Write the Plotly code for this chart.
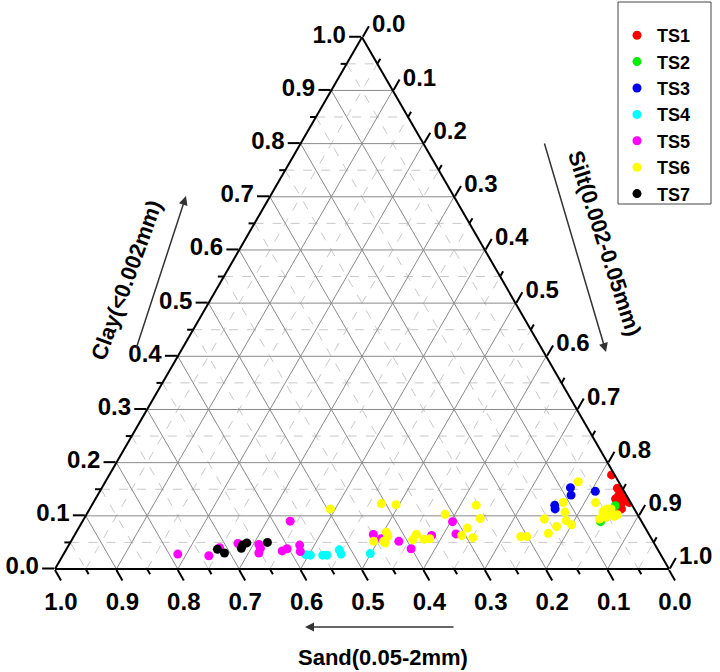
import math
import plotly.graph_objects as go

# ---- data: soil texture fractions ----
series_names = ["TS1", "TS2", "TS3", "TS4", "TS5", "TS6", "TS7"]
series_colors = ["#ff0000", "#00ee00", "#0000ee", "#00ffff", "#ff00ff", "#ffff00", "#000000"]

ts1_clay = [0.177, 0.152, 0.148, 0.139, 0.142, 0.136, 0.132, 0.132, 0.126, 0.125, 0.113, 0.113]
ts1_silt = [0.818, 0.840, 0.850, 0.849, 0.853, 0.862, 0.847, 0.855, 0.861, 0.873, 0.862, 0.866]
ts1_sand = [0.005, 0.008, 0.002, 0.012, 0.005, 0.002, 0.021, 0.013, 0.013, 0.002, 0.025, 0.021]

ts2_clay = [0.119, 0.089]
ts2_silt = [0.853, 0.844]
ts2_sand = [0.028, 0.067]

ts3_clay = [0.120, 0.113, 0.153, 0.139, 0.146]
ts3_silt = [0.754, 0.758, 0.763, 0.771, 0.807]
ts3_sand = [0.126, 0.129, 0.084, 0.090, 0.047]

ts4_clay = [0.027, 0.026, 0.026, 0.026, 0.036, 0.028, 0.029]
ts4_silt = [0.395, 0.403, 0.423, 0.430, 0.445, 0.452, 0.499]
ts4_sand = [0.578, 0.571, 0.551, 0.544, 0.519, 0.520, 0.472]

ts5_clay = [0.028, 0.025, 0.040, 0.048, 0.046, 0.039, 0.030, 0.090, 0.034, 0.038,
            0.045, 0.033, 0.065, 0.057, 0.052, 0.038, 0.063, 0.089, 0.066]
ts5_silt = [0.186, 0.238, 0.248, 0.274, 0.309, 0.315, 0.317, 0.338, 0.353, 0.359,
            0.376, 0.383, 0.486, 0.503, 0.534, 0.561, 0.582, 0.603, 0.620]
ts5_sand = [0.786, 0.737, 0.712, 0.678, 0.645, 0.646, 0.653, 0.572, 0.613, 0.603,
            0.579, 0.584, 0.449, 0.440, 0.414, 0.401, 0.355, 0.308, 0.314]

ts6_clay = [0.113, 0.123, 0.121, 0.052, 0.069, 0.062, 0.052, 0.049, 0.055, 0.065,
            0.056, 0.057, 0.103, 0.120, 0.095, 0.063, 0.077, 0.059, 0.061, 0.061,
            0.067, 0.080, 0.094, 0.083, 0.091, 0.125, 0.107, 0.164, 0.125, 0.094,
            0.107, 0.110, 0.113, 0.113, 0.102, 0.104, 0.102, 0.097, 0.099]
ts6_silt = [0.392, 0.470, 0.495, 0.493, 0.505, 0.511, 0.509, 0.513, 0.555, 0.556,
            0.573, 0.582, 0.584, 0.626, 0.645, 0.631, 0.633, 0.651, 0.728, 0.738,
            0.770, 0.777, 0.750, 0.800, 0.787, 0.765, 0.777, 0.770, 0.818, 0.840,
            0.839, 0.840, 0.843, 0.849, 0.849, 0.856, 0.865, 0.849, 0.861]
ts6_sand = [0.495, 0.407, 0.384, 0.455, 0.426, 0.427, 0.439, 0.438, 0.390, 0.379,
            0.371, 0.361, 0.313, 0.254, 0.260, 0.306, 0.290, 0.290, 0.211, 0.201,
            0.163, 0.143, 0.156, 0.117, 0.122, 0.110, 0.116, 0.066, 0.057, 0.066,
            0.054, 0.050, 0.044, 0.038, 0.049, 0.040, 0.033, 0.054, 0.040]

ts7_clay = [0.037, 0.030, 0.039, 0.045, 0.049, 0.050]
ts7_silt = [0.246, 0.261, 0.284, 0.283, 0.288, 0.321]
ts7_sand = [0.717, 0.709, 0.677, 0.672, 0.663, 0.629]

series_clay = [ts1_clay, ts2_clay, ts3_clay, ts4_clay, ts5_clay, ts6_clay, ts7_clay]
series_silt = [ts1_silt, ts2_silt, ts3_silt, ts4_silt, ts5_silt, ts6_silt, ts7_silt]
series_sand = [ts1_sand, ts2_sand, ts3_sand, ts4_sand, ts5_sand, ts6_sand, ts7_sand]

major_ticks = [0.0, 0.1, 0.2, 0.3, 0.4, 0.5, 0.6, 0.7, 0.8, 0.9, 1.0]
tick_labels = ["0.0", "0.1", "0.2", "0.3", "0.4", "0.5", "0.6", "0.7", "0.8", "0.9", "1.0"]

# ---- page geometry ----
FIG_W, FIG_H = 720, 672
TRI_LEFT, TRI_RIGHT, TRI_BOTTOM = 55, 669, 569
SIDE = TRI_RIGHT - TRI_LEFT
TRI_H = SIDE * math.sqrt(3) / 2
BL = (TRI_LEFT, TRI_BOTTOM)
BR = (TRI_RIGHT, TRI_BOTTOM)
TOP = (TRI_LEFT + SIDE / 2, TRI_BOTTOM - TRI_H)


def px(x, y):
    return x / FIG_W, 1 - y / FIG_H


fig = go.Figure()

# ---- grid: solid at 0.1, dashed at 0.05 ----
for dashed, col in [(True, "#c8c8c8"), (False, "#8a8a8a")]:
    ga, gb, gc = [], [], []
    for i in range(1, 20):
        v = i / 20
        if (i % 2 == 1) != dashed:
            continue
        ga += [v, v, None, 1 - v, 0, None, 0, 1 - v, None]
        gb += [1 - v, 0, None, v, v, None, 1 - v, 0, None]
        gc += [0, 1 - v, None, 0, 1 - v, None, v, v, None]
    fig.add_trace(go.Scatterternary(
        a=ga, b=gb, c=gc, mode="lines",
        line=dict(color=col, width=1, dash="dash" if dashed else "solid"),
        hoverinfo="skip", showlegend=False
    ))

# ---- samples ----
for name, col, cl, si, sa in zip(series_names, series_colors, series_clay, series_silt, series_sand):
    fig.add_trace(go.Scatterternary(
        a=cl, b=sa, c=si, mode="markers", name=name,
        marker=dict(color=col, size=9, line=dict(width=0)),
        hovertemplate=name + "<br>Clay %{a:.3f}<br>Sand %{b:.3f}<br>Silt %{c:.3f}<extra></extra>"
    ))

# ---- minor ticks (0.05 steps) as shapes ----
minor_len = 6
for i in range(1, 20, 2):
    v = i / 20
    segs = []
    # clay, left edge, pointing left
    x0 = BL[0] + v * (TOP[0] - BL[0])
    y0 = BL[1] + v * (TOP[1] - BL[1])
    segs.append((px(x0, y0), px(x0 - minor_len, y0)))
    # sand, bottom edge, pointing down-right
    x0 = BR[0] - v * SIDE
    segs.append((px(x0, BL[1]), px(x0 + 0.5 * minor_len, BL[1] + 0.866 * minor_len)))
    # silt, right edge, pointing up-right
    x0 = TOP[0] + v * (BR[0] - TOP[0])
    y0 = TOP[1] + v * (BR[1] - TOP[1])
    segs.append((px(x0, y0), px(x0 + 0.5 * minor_len, y0 - 0.866 * minor_len)))
    for p0, p1 in segs:
        fig.add_shape(type="line", xref="paper", yref="paper",
                      x0=p0[0], y0=p0[1], x1=p1[0], y1=p1[1],
                      line=dict(color="black", width=2))

# legend frame
lx0, ly0 = px(618, 2)
lx1, ly1 = px(711, 204)
fig.add_shape(type="rect", xref="paper", yref="paper", x0=lx0, y0=ly0, x1=lx1, y1=ly1,
              line=dict(color="#444444", width=1), fillcolor="rgba(0,0,0,0)", layer="above")

tick_font = dict(family="Liberation Sans, Arial, sans-serif", size=24, color="black", weight="bold")
axis_common = dict(
    title=dict(text=""),
    tickmode="array", tickvals=major_ticks, ticktext=tick_labels,
    ticks="outside", ticklen=12, tickwidth=2, tickcolor="black",
    showline=True, linecolor="black", linewidth=2,
    showgrid=False, tickfont=tick_font
)

title_font = dict(family="Liberation Sans, Arial, sans-serif", size=22, color="black", weight="bold")
label_style = dict(xref="paper", yref="paper", showarrow=False, font=title_font,
                   xanchor="center", yanchor="middle")

fig.add_annotation(x=px(126, 280)[0], y=px(126, 280)[1], text="Clay(<0.002mm)", textangle=-70, **label_style)
fig.add_annotation(x=px(604, 243)[0], y=px(604, 243)[1], text="Silt(0.002-0.05mm)", textangle=72, **label_style)
fig.add_annotation(x=px(383, 657)[0], y=px(383, 657)[1], text="Sand(0.05-2mm)", **label_style)

arrow_style = dict(xref="paper", yref="paper", text="", showarrow=True,
                   arrowhead=2, arrowsize=1.2, arrowwidth=1.5, arrowcolor="#333333")
fig.add_annotation(x=px(186, 196)[0], y=px(186, 196)[1], ax=-50, ay=153, **arrow_style)
fig.add_annotation(x=px(606, 352)[0], y=px(606, 352)[1], ax=-62, ay=-210, **arrow_style)
fig.add_annotation(x=px(305, 627)[0], y=px(305, 627)[1], ax=150, ay=0, **arrow_style)

fig.update_layout(
    width=FIG_W, height=FIG_H,
    margin=dict(l=0, r=0, t=0, b=0),
    paper_bgcolor="white",
    ternary=dict(
        sum=1,
        bgcolor="white",
        domain=dict(x=[TRI_LEFT / FIG_W, TRI_RIGHT / FIG_W],
                    y=[(FIG_H - TRI_BOTTOM) / FIG_H, (FIG_H - TRI_BOTTOM + TRI_H) / FIG_H]),
        aaxis=axis_common,
        baxis=axis_common,
        caxis=axis_common,
    ),
    legend=dict(
        x=617 / FIG_W, y=1 - 17 / FIG_H, xanchor="left", yanchor="top",
        bgcolor="rgba(0,0,0,0)", borderwidth=0,
        font=dict(family="Liberation Sans, Arial, sans-serif", size=18, color="black", weight="bold"),
    ),
    showlegend=True,
)

# the page's default body margin would push the 720x672 figure off the window
fig.write_html("out.html", config={"displayModeBar": False},
               post_script="document.body.style.margin = '0px';")
